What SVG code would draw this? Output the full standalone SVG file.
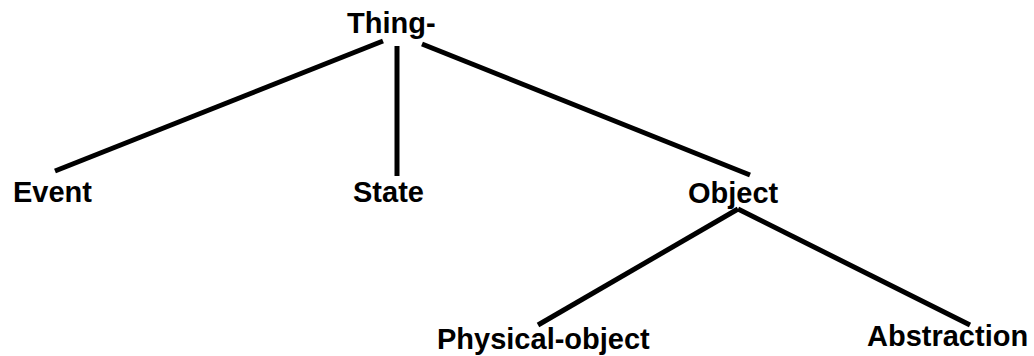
<svg xmlns="http://www.w3.org/2000/svg" width="1034" height="356" viewBox="0 0 1034 356">
<style>
text{font-family:"Liberation Sans",Arial,sans-serif;font-weight:bold;font-size:29px;fill:#000}
.e{stroke:#000;stroke-width:5;fill:none}
</style>
<rect width="1034" height="356" fill="#fff"/>
<g id="connectors">
<line class="e" x1="383" y1="41" x2="55" y2="171"/>
<line class="e" x1="397" y1="46" x2="397" y2="176"/>
<line class="e" x1="422" y1="44" x2="750" y2="175"/>
<line class="e" x1="738" y1="209" x2="538" y2="325"/>
<line class="e" x1="738" y1="209" x2="970" y2="325"/>
</g>
<g id="thing"><text x="347" y="33">Thing-</text></g>
<g id="event"><text x="13" y="202">Event</text></g>
<g id="state"><text x="353" y="202">State</text></g>
<g id="object"><text x="688" y="203">Object</text></g>
<g id="physical-object"><text x="437" y="349">Physical-object</text></g>
<g id="abstraction"><text x="867" y="346">Abstraction</text></g>
</svg>
